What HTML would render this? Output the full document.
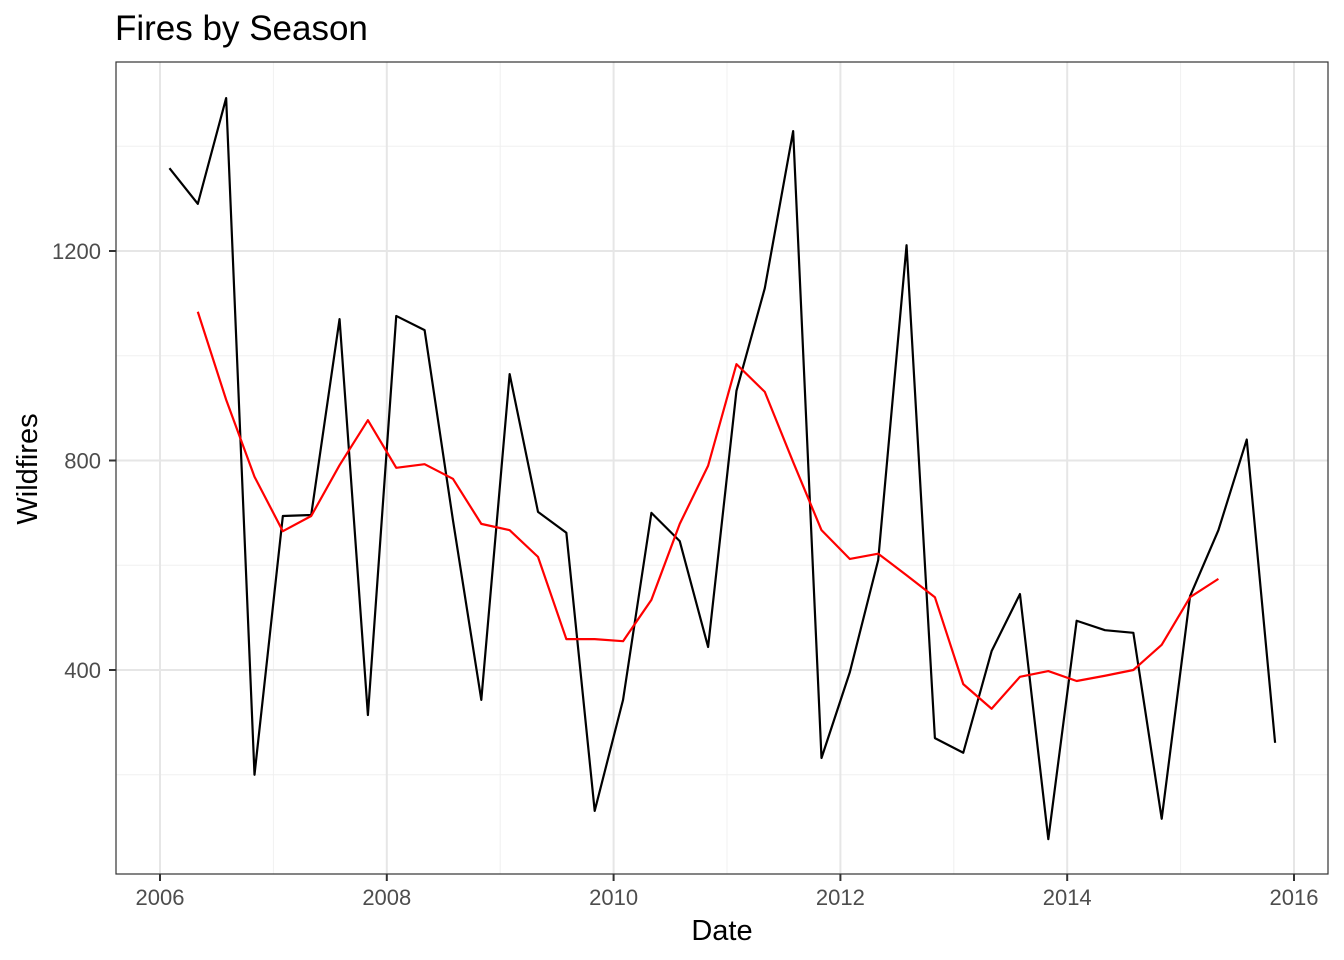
<!DOCTYPE html>
<html><head><meta charset="utf-8"><style>
body{margin:0;background:#fff;font-family:"Liberation Sans",Arial,sans-serif}
svg{display:block}
</style></head><body>
<svg id="chart" width="1344" height="960" xmlns="http://www.w3.org/2000/svg">
<text x="115" y="40" font-size="35" fill="#000">Fires by Season</text>
<g id="grid"></g>
<g id="series"></g>
<rect x="116" y="62" width="1212" height="812" fill="none" stroke="#333" stroke-width="1.2"/>
<g id="axes"></g>
<text x="722" y="940" font-size="29" text-anchor="middle">Date</text>
<text transform="translate(37,469) rotate(-90)" font-size="29" text-anchor="middle">Wildfires</text>
</svg>
<script>
const quarterMonths = [2,5,8,11];
const years = [2006,2007,2008,2009,2010,2011,2012,2013,2014,2015];
const fires = [1358,1290,1492,200, 694,696,1070,314, 1076,1049,686,343, 965,702,662,131, 343,700,646,444, 933,1129,1429,232, 396,610,1211,270, 242,436,545,77, 494,476,471,116, 541,667,840,261];
const rollingMean = [1084,916,769, 665,694,791,877, 786,793,765,679, 667,616,459,459, 455,534,679,790, 984,931,797,667, 612,622,581,539, 373,326,387,398, 379,389,400,448, 539,574];
const rollingStartIndex = 1;
const xTicks = [2006,2008,2010,2012,2014,2016];
const xMinor = [2007,2009,2011,2013,2015];
const yTicks = [400,800,1200];
const yMinor = [200,600,1000,1400];

const NS="http://www.w3.org/2000/svg";
const X0=116,X1=1328,Y0=62,Y1=874;
const xs=v=>160+(v-2006)*113.4;
const ys=v=>251+(1200-v)*0.52375;
function mk(tag,attrs,parent){const e=document.createElementNS(NS,tag);for(const k in attrs)e.setAttribute(k,attrs[k]);parent.appendChild(e);return e;}
const grid=document.getElementById('grid'),axes=document.getElementById('axes'),series=document.getElementById('series');
xMinor.forEach(v=>{const l=mk('line',{x1:xs(v),x2:xs(v),y1:Y0,y2:Y1,stroke:'#f0f0f0','stroke-width':1},grid);

});
yMinor.forEach(v=>{const l=mk('line',{x1:X0,x2:X1,y1:ys(v),y2:ys(v),stroke:'#f0f0f0','stroke-width':1},grid);

});
xTicks.forEach(v=>{const l=mk('line',{x1:xs(v),x2:xs(v),y1:Y0,y2:Y1,stroke:'#e6e6e6','stroke-width':2},grid);


const t=mk('line',{x1:xs(v),x2:xs(v),y1:Y1,y2:Y1+7,stroke:'#333','stroke-width':2},axes);


const tx=mk('text',{x:xs(v),y:905,'font-size':22,'text-anchor':'middle',fill:'#4d4d4d'},axes);tx.textContent=v;

});
yTicks.forEach(v=>{const l=mk('line',{x1:X0,x2:X1,y1:ys(v),y2:ys(v),stroke:'#e6e6e6','stroke-width':2},grid);


const t=mk('line',{x1:X0-7,x2:X0,y1:ys(v),y2:ys(v),stroke:'#333','stroke-width':2},axes);


const tx=mk('text',{x:101,y:ys(v)+8,'font-size':22,'text-anchor':'end',fill:'#4d4d4d'},axes);tx.textContent=v;

});
const dates=[];years.forEach(y=>quarterMonths.forEach(m=>dates.push(y+(m-1)/12)));
const p1=fires.map((v,i)=>xs(dates[i])+','+ys(v)).join(' ');
const l1=mk('polyline',{points:p1,fill:'none',stroke:'#000','stroke-width':2.2,'stroke-linejoin':'round'},series);


const p2=rollingMean.map((v,i)=>xs(dates[i+rollingStartIndex])+','+ys(v)).join(' ');
const l2=mk('polyline',{points:p2,fill:'none',stroke:'#ff0000','stroke-width':2.2,'stroke-linejoin':'round'},series);


</script>
</body></html>
